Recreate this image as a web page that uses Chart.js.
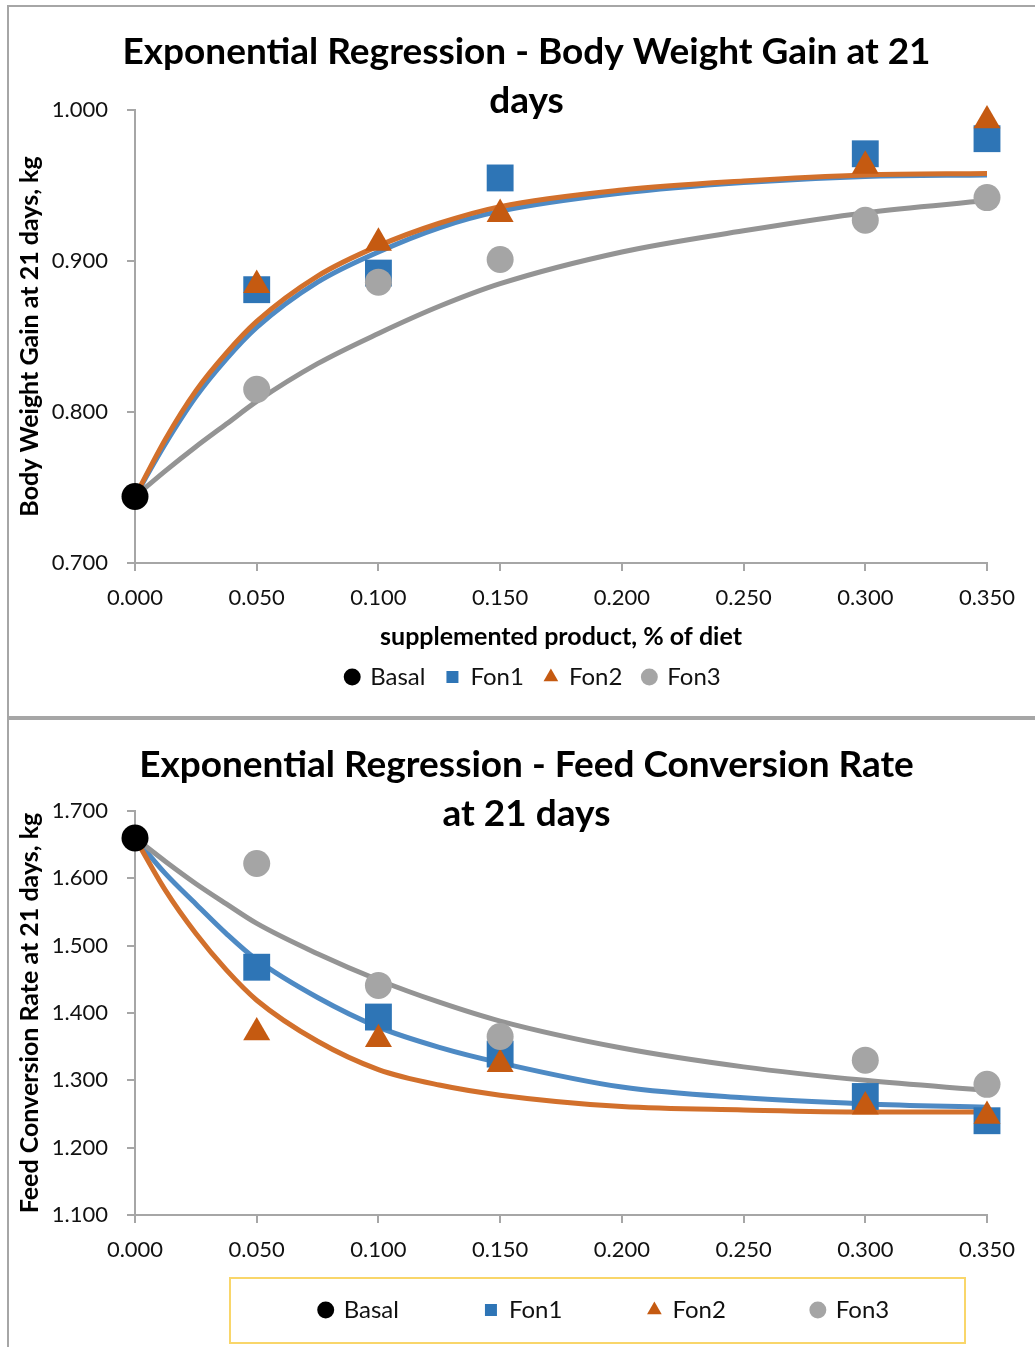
<!DOCTYPE html>
<html>
<head>
<meta charset="utf-8">
<script src="https://cdn.jsdelivr.net/npm/chart.js@4.4.1/dist/chart.umd.min.js"></script>
<style>
  html, body { margin: 0; padding: 0; background: #fff; overflow: hidden; }
  body { width: 1035px; height: 1347px; position: relative; }
  .frame { position: absolute; left: 7px; width: 1100px; border: 2px solid #a6a6a6; }
  #frameTop { top: 5px; height: 709px; }
  #frameBottom { top: 718px; height: 700px; }
  canvas { position: absolute; left: 0; }
  #bwgChart { top: 0; }
  #fcrChart { top: 718px; }
</style>
</head>
<body>
<div class="frame" id="frameTop"></div>
<div class="frame" id="frameBottom"></div>
<canvas id="bwgChart" width="1035" height="716"></canvas>
<canvas id="fcrChart" width="1035" height="629"></canvas>
<script>
// x axis: supplemented product, % of diet
const xTicks = [0, 0.05, 0.1, 0.15, 0.2, 0.25, 0.3, 0.35];
const bwgTicks = [0.7, 0.8, 0.9, 1.0];
const fcrTicks = [1.1, 1.2, 1.3, 1.4, 1.5, 1.6, 1.7];

const seriesNames = ['Basal', 'Fon1', 'Fon2', 'Fon3'];
const basalDose = [0];
const fonDoses = [0.05, 0.1, 0.15, 0.3, 0.35];
const fitDoses = [0, 0.0125, 0.025, 0.0375, 0.05, 0.075, 0.1, 0.125, 0.15, 0.2, 0.25, 0.3, 0.35];

// Body weight gain at 21 days, kg
const bwgBasal = [0.744];
const bwgFon1 = [0.881, 0.892, 0.955, 0.971, 0.981];
const bwgFon2 = [0.884, 0.912, 0.931, 0.963, 0.993];
const bwgFon3 = [0.815, 0.886, 0.901, 0.927, 0.942];
// exponential trendlines
const bwgFitFon1 = [0.744, 0.779, 0.810, 0.835, 0.856, 0.886, 0.906, 0.922, 0.933, 0.945, 0.952, 0.956, 0.957];
const bwgFitFon2 = [0.744, 0.782, 0.814, 0.839, 0.860, 0.890, 0.910, 0.925, 0.936, 0.947, 0.953, 0.957, 0.958];
const bwgFitFon3 = [0.744, 0.761, 0.777, 0.792, 0.807, 0.832, 0.852, 0.870, 0.885, 0.906, 0.920, 0.932, 0.940];

// Feed conversion rate at 21 days
const fcrBasal = [1.660];
const fcrFon1 = [1.468, 1.394, 1.339, 1.276, 1.240];
const fcrFon2 = [1.371, 1.361, 1.324, 1.261, 1.247];
const fcrFon3 = [1.622, 1.441, 1.365, 1.330, 1.294];
const fcrFitFon1 = [1.660, 1.607, 1.562, 1.518, 1.479, 1.423, 1.379, 1.349, 1.326, 1.290, 1.274, 1.265, 1.260];
const fcrFitFon2 = [1.660, 1.582, 1.518, 1.464, 1.419, 1.358, 1.316, 1.293, 1.278, 1.261, 1.256, 1.253, 1.253];
const fcrFitFon3 = [1.660, 1.625, 1.592, 1.562, 1.533, 1.488, 1.449, 1.416, 1.388, 1.348, 1.320, 1.300, 1.285];

const FONT = "Lato, 'Open Sans', sans-serif";
const TEXT = '#111';
const AXIS = '#a6a6a6';

const markerStyles = [
  { color: '#000000', pointStyle: 'circle', radius: 13.5 },
  { color: '#2e75b6', pointStyle: 'rect', radius: 19 },
  { color: '#c55a11', pointStyle: 'triangle', radius: 15.6 },
  { color: '#a5a5a5', pointStyle: 'circle', radius: 13.5 }
];
const fitColors = ['#4e8ac4', '#d2702c', '#949494'];

function points(xs, ys) {
  return xs.map((x, i) => ({ x: x, y: ys[i] }));
}

function buildDatasets(basal, fon1, fon2, fon3, fit1, fit2, fit3) {
  const markers = [
    points(basalDose, basal),
    points(fonDoses, fon1),
    points(fonDoses, fon2),
    points(fonDoses, fon3)
  ];
  // draw order: basal on top, then Fon3, Fon2, Fon1, then the trendlines
  const markerOrder = [0, 3, 2, 1];
  const sets = markers.map((data, i) => ({
    label: seriesNames[i],
    data: data,
    pointStyle: markerStyles[i].pointStyle,
    pointRadius: markerStyles[i].radius,
    pointHoverRadius: markerStyles[i].radius,
    backgroundColor: markerStyles[i].color,
    borderColor: markerStyles[i].color,
    borderWidth: 0,
    clip: false,
    order: markerOrder[i],
    inLegend: true
  }));
  [fit1, fit2, fit3].forEach((ys, i) => {
    sets.push({
      label: seriesNames[i + 1] + ' trend',
      data: points(fitDoses, ys),
      showLine: true,
      cubicInterpolationMode: 'monotone',
      borderColor: fitColors[i],
      backgroundColor: fitColors[i],
      borderWidth: 5,
      pointRadius: 0,
      pointHoverRadius: 0,
      clip: false,
      order: [6, 5, 4][i],
      inLegend: false
    });
  });
  return sets;
}

// moves the title / legend boxes sideways (and the legend up) after layout,
// and draws the framed legend box of the second chart
const layoutTweaks = {
  id: 'layoutTweaks',
  afterLayout(chart, args, opts) {
    const shift = (box, dx, dy) => {
      if (!box) return;
      box.left += dx || 0;
      box.right += dx || 0;
      box.top += dy || 0;
      box.bottom += dy || 0;
    };
    shift(chart.titleBlock, opts.titleShift, 0);
    shift(chart.legend, opts.legendShift, opts.legendLift);
  },
  afterDraw(chart, args, opts) {
    const f = opts.legendFrame;
    if (!f) return;
    const ctx = chart.ctx;
    ctx.save();
    ctx.strokeStyle = f.color;
    ctx.lineWidth = 2;
    ctx.strokeRect(f.left, f.top, f.width, f.height);
    ctx.restore();
  }
};

function makeChart(canvasId, cfg) {
  const ctx = document.getElementById(canvasId).getContext('2d');
  return new Chart(ctx, {
    type: 'scatter',
    data: { datasets: cfg.datasets },
    plugins: [layoutTweaks],
    options: {
      responsive: false,
      animation: false,
      events: [],
      layout: {
        padding: { left: 8, right: 48, top: 0, bottom: cfg.bottomPad }
      },
      plugins: {
        title: {
          display: true,
          text: cfg.title,
          color: '#000',
          font: { family: FONT, size: 37, weight: 'bold', lineHeight: '49px' },
          padding: cfg.titlePadding
        },
        legend: {
          display: true,
          position: 'bottom',
          labels: {
            usePointStyle: true,
            boxWidth: 12,
            boxHeight: 12,
            padding: cfg.legendGap,
            color: TEXT,
            font: { family: FONT, size: 24 },
            filter: (item, data) => data.datasets[item.datasetIndex].inLegend,
            sort: (a, b) => a.datasetIndex - b.datasetIndex
          }
        },
        tooltip: { enabled: false },
        layoutTweaks: {
          titleShift: 29,
          legendShift: cfg.legendShift,
          legendLift: cfg.legendLift,
          legendFrame: cfg.legendFrame
        }
      },
      scales: {
        x: {
          type: 'linear',
          min: 0,
          max: 0.35,
          afterBuildTicks: (scale) => {
            scale.ticks = xTicks.map(v => ({ value: v }));
          },
          afterFit: (scale) => {
            scale.height = cfg.xAxisHeight;
          },
          ticks: {
            padding: 14,
            color: TEXT,
            font: { family: FONT, size: 22 },
            callback: (v) => v.toFixed(3)
          },
          grid: { drawOnChartArea: false, drawTicks: true, tickLength: 8, color: AXIS, lineWidth: 2 },
          border: { color: AXIS, width: 2 },
          title: {
            display: cfg.xTitle !== '',
            text: cfg.xTitle,
            color: '#000',
            font: { family: FONT, size: 25, weight: 'bold', lineHeight: 1.2 },
            padding: { top: 0, bottom: -8 }
          }
        },
        y: {
          type: 'linear',
          min: cfg.yTicks[0],
          max: cfg.yTicks[cfg.yTicks.length - 1],
          afterBuildTicks: (scale) => {
            scale.ticks = cfg.yTicks.map(v => ({ value: v }));
          },
          afterFit: (scale) => {
            scale.width = 127;
          },
          ticks: {
            padding: 19,
            color: TEXT,
            font: { family: FONT, size: 22 },
            callback: (v) => v.toFixed(3)
          },
          grid: { drawOnChartArea: false, drawTicks: true, tickLength: 8, color: AXIS, lineWidth: 2 },
          border: { color: AXIS, width: 2 },
          title: {
            display: true,
            text: cfg.yTitle,
            color: '#000',
            font: { family: FONT, size: 25, weight: 'bold', lineHeight: 1.2 },
            padding: { top: 7, bottom: 0 }
          }
        }
      }
    }
  });
}

document.addEventListener('DOMContentLoaded', () => {
  makeChart('bwgChart', {
    datasets: buildDatasets(bwgBasal, bwgFon1, bwgFon2, bwgFon3, bwgFitFon1, bwgFitFon2, bwgFitFon3),
    title: ['Exponential Regression - Body Weight Gain at 21', 'days'],
    titlePadding: { top: 27.5, bottom: -15.5 },
    yTicks: bwgTicks,
    yTitle: 'Body Weight Gain at 21 days, kg',
    xTitle: 'supplemented product, % of diet',
    xAxisHeight: 81,
    legendGap: 21,
    legendShift: 36,
    legendLift: 0,
    legendFrame: null,
    bottomPad: 17
  });

  makeChart('fcrChart', {
    datasets: buildDatasets(fcrBasal, fcrFon1, fcrFon2, fcrFon3, fcrFitFon1, fcrFitFon2, fcrFitFon3),
    title: ['Exponential Regression - Feed Conversion Rate', 'at 21 days'],
    titlePadding: { top: 22.5, bottom: -27.5 },
    yTicks: fcrTicks,
    yTitle: 'Feed Conversion Rate at 21 days, kg',
    xTitle: '',
    xAxisHeight: 50,
    legendGap: 86,
    legendShift: 107,
    legendLift: -53,
    legendFrame: { left: 230, top: 560, width: 735, height: 65, color: '#f9d66a' },
    bottomPad: -38
  });
});
</script>
</body>
</html>
